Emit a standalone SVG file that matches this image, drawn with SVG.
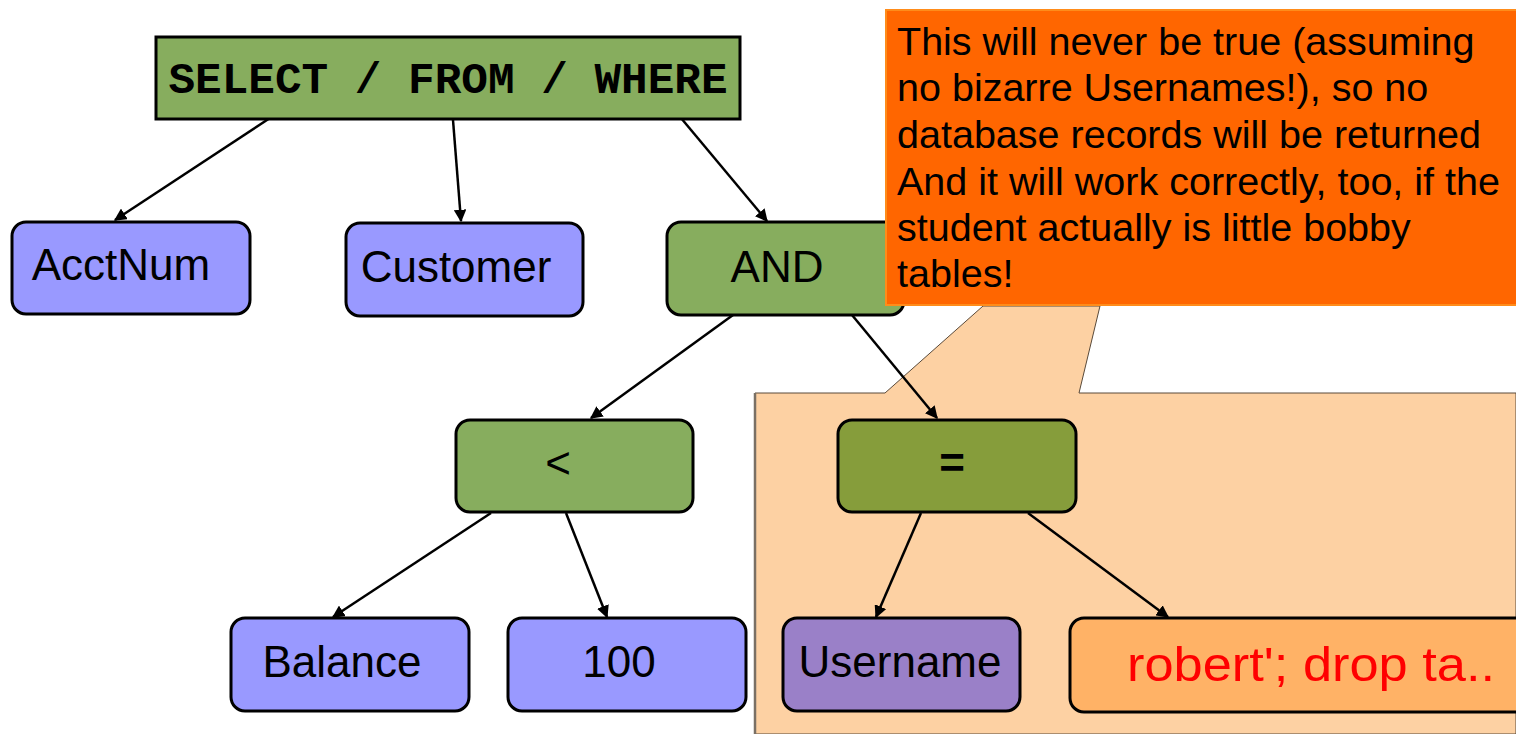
<svg xmlns="http://www.w3.org/2000/svg" width="1516" height="734" viewBox="0 0 1516 734">
<style>
.n{stroke:#000;stroke-width:3}
.t{font-family:"Liberation Sans",Arial,sans-serif;font-size:44px;fill:#000;text-anchor:middle}
.c{stroke:#000;stroke-width:2.5;fill:none;marker-end:url(#ah)}
.blue{fill:#9999FF}
.green{fill:#87AD5E}
.ct{font-family:"Liberation Sans",Arial,sans-serif;font-size:39.5px;fill:#000}
</style>
<defs>
<marker id="ah" viewBox="0 0 10 10" refX="9" refY="5" markerWidth="5" markerHeight="5" orient="auto" markerUnits="strokeWidth">
<path d="M0,0 L10,5 L0,10 z" fill="#000"/>
</marker>
</defs>
<rect width="1516" height="734" fill="#fff"/>
<g id="callout-bg">
<polygon points="755,734 755,393 885,393 983,306 1100,306 1079,393 1516,393 1516,734" fill="#FDD1A3" stroke="#5a4a3a" stroke-width="1"/>
<line x1="755" y1="393" x2="755" y2="734" stroke="#7a7065" stroke-width="2.5"/>
</g>
<g id="connectors">
<line class="c" x1="270" y1="118" x2="115" y2="220"/>
<line class="c" x1="453" y1="120" x2="461" y2="221"/>
<line class="c" x1="681" y1="118" x2="767" y2="221"/>
<line class="c" x1="733" y1="315" x2="591" y2="418"/>
<line class="c" x1="852" y1="315" x2="937" y2="418"/>
<line class="c" x1="491" y1="513" x2="333" y2="617"/>
<line class="c" x1="566" y1="513" x2="607" y2="617"/>
<line class="c" x1="921" y1="513" x2="876" y2="617"/>
<line class="c" x1="1028" y1="513" x2="1168" y2="617"/>
</g>
<g id="select">
<rect class="n green" x="156" y="37" width="584" height="82"/>
<text x="448" y="93" font-family="'Liberation Mono','Courier New',monospace" font-weight="bold" font-size="45" text-anchor="middle" textLength="559" lengthAdjust="spacingAndGlyphs">SELECT / FROM / WHERE</text>
</g>
<g id="acctnum">
<rect class="n blue" x="12" y="222" width="238" height="92" rx="14"/>
<text class="t" x="121" y="280">AcctNum</text>
</g>
<g id="customer">
<rect class="n blue" x="346" y="223" width="237" height="93" rx="14"/>
<text class="t" x="456" y="282">Customer</text>
</g>
<g id="and">
<rect class="n green" x="667" y="222" width="237" height="93" rx="14"/>
<text class="t" x="777" y="282">AND</text>
</g>
<g id="lt">
<rect class="n green" x="456" y="420" width="237" height="92" rx="14"/>
<text class="t" x="558" y="478" font-size="38">&lt;</text>
</g>
<g id="eq">
<rect class="n" fill="#869D3B" x="838" y="420" width="238" height="92" rx="14"/>
<text class="t" x="952" y="478" font-size="36" font-weight="bold">=</text>
</g>
<g id="balance">
<rect class="n blue" x="231" y="618" width="238" height="93" rx="14"/>
<text class="t" x="342" y="677">Balance</text>
</g>
<g id="n100">
<rect class="n blue" x="508" y="618" width="238" height="93" rx="14"/>
<text class="t" x="619" y="677">100</text>
</g>
<g id="username">
<rect class="n" fill="#9A80C8" x="783" y="618" width="237" height="93" rx="14"/>
<text class="t" x="900" y="677">Username</text>
</g>
<g id="robert">
<rect class="n" fill="#FFB266" x="1070" y="618" width="460" height="94" rx="14"/>
<text x="1127" y="681" font-family="'Liberation Sans',Arial,sans-serif" font-size="48" fill="#FF0000" textLength="368" lengthAdjust="spacingAndGlyphs">robert'; drop ta..</text>
</g>
<g id="callout">
<rect x="886" y="10" width="632" height="295" fill="#FF6600" stroke="#FF8C1A" stroke-width="2"/>
<text class="ct"><tspan x="897" y="55">This will never be true (assuming</tspan><tspan x="897" y="101">no bizarre Usernames!), so no</tspan><tspan x="897" y="148">database records will be returned</tspan><tspan x="897" y="195">And it will work correctly, too, if the</tspan><tspan x="897" y="241">student actually is little bobby</tspan><tspan x="897" y="287">tables!</tspan></text>
</g>
</svg>
